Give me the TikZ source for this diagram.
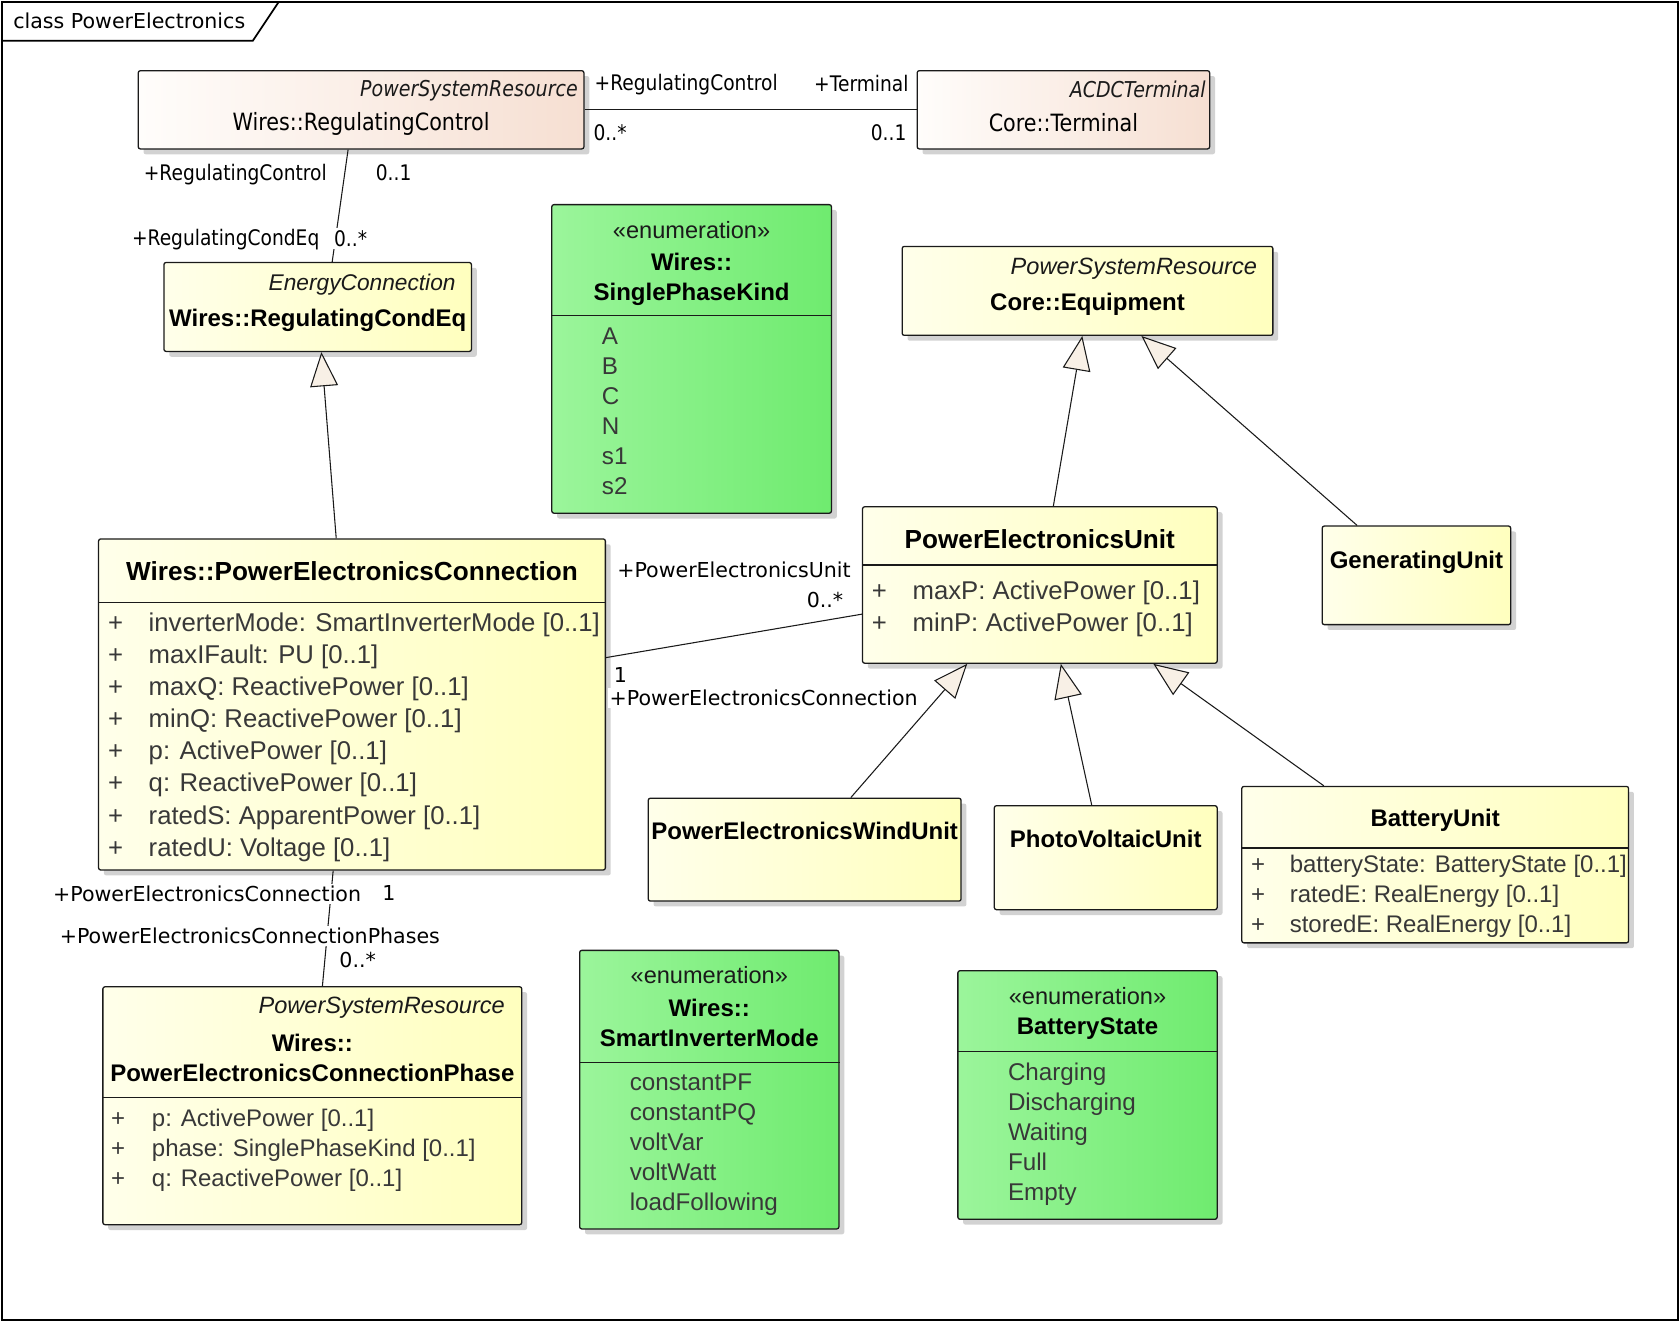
\documentclass[tikz,border=0pt]{standalone}
\usepackage{fontspec}
\setmainfont{Liberation Sans}
\newfontfamily\rolefont{DejaVu Sans}
\newfontfamily\condfont[FakeStretch=0.87]{DejaVu Sans}
\usetikzlibrary{arrows.meta,positioning,fit,calc,shadows}
\definecolor{Ink}{HTML}{1A1A1A}
\definecolor{AttrInk}{HTML}{383838}
\definecolor{ClsLeft}{HTML}{FFFFEA}
\definecolor{ClsRight}{HTML}{FFFFBE}
\definecolor{PsrLeft}{HTML}{FFFDFB}
\definecolor{PsrRight}{HTML}{F6DFD2}
\definecolor{EnumLeft}{HTML}{9BF59B}
\definecolor{EnumRight}{HTML}{6FEB6F}
\definecolor{HeadFill}{HTML}{F8F0E6}
\definecolor{ShadowC}{HTML}{D2D2D2}
\newcommand{\plusrow}[1]{\makebox[19pt][l]{+}#1}
\newcommand{\plusrowb}[1]{\makebox[18pt][l]{+}#1}

\begin{document}
\begin{tikzpicture}[
  x=0.5pt, y=-0.5pt,
  every node/.style={inner sep=0pt},
  box/.style={draw=Ink, line width=0.6pt, rounded corners=1pt, inner sep=0pt,
    drop shadow={shadow xshift=2.5pt, shadow yshift=-2.5pt, fill=ShadowC, opacity=1}},
  cls/.style={box, left color=ClsLeft, right color=ClsRight},
  psr/.style={box, left color=PsrLeft, right color=PsrRight},
  enumbox/.style={box, left color=EnumLeft, right color=EnumRight},
  divider/.style={draw=Ink, line width=0.6pt},
  clsname/.style={font=\fontsize{11.2}{14}\selectfont\bfseries, text=black, align=center},
  bigname/.style={font=\fontsize{12.2}{15}\selectfont\bfseries, text=black},
  stereo/.style={font=\fontsize{11}{13}\selectfont\itshape, text=Ink, anchor=east},
  enumst/.style={font=\fontsize{11}{13}\selectfont, text=Ink},
  topst/.style={font=\condfont\fontsize{10.2}{12}\selectfont\itshape, text=Ink, anchor=east},
  topname/.style={font=\condfont\fontsize{11.1}{13}\selectfont, text=black},
  attrs/.style={font=\fontsize{12}{15}\selectfont, text=AttrInk, align=left, anchor=north west},
  attrsb/.style={font=\fontsize{11.2}{14}\selectfont, text=AttrInk, align=left, anchor=north west},
  items/.style={font=\fontsize{11.3}{14}\selectfont, text=AttrInk, align=left, anchor=north west},
  role/.style={font=\rolefont\fontsize{9.6}{11}\selectfont, text=black, fill=white, inner sep=1pt},
  toprole/.style={font=\condfont\fontsize{10}{12}\selectfont, text=black, fill=white, inner sep=1pt},
  assoc/.style={draw=Ink, line width=0.5pt},
  gen/.style={draw=Ink, line width=0.5pt, -{Triangle[length=16pt, width=13pt, fill=HeadFill]}},
  frame/.style={draw=black, line width=0.8pt}
]
\useasboundingbox (0,0) rectangle (1568,1234);

% frame
\draw[frame] (2,2) rectangle (1566,1232);
\draw[frame] (2,38) -- (236,38) -- (260,2);
\node[font=\rolefont\fontsize{9.6}{11}\selectfont, anchor=west] (title) at (12,19) {class PowerElectronics};

% top row
\node[psr, fit={(129,66) (545,139)}] (regctl) {};
\node[topst] (regctl-st) at ($(regctl.north east)+(-6,19)$) {PowerSystemResource};
\node[topname] (regctl-nm) at ($(regctl.north)+(0,50)$) {Wires::RegulatingControl};

\node[psr, fit={(856,66) (1129,139)}] (term) {};
\node[topst] (term-st) at ($(term.north east)+(-4,18)$) {ACDCTerminal};
\node[topname] (term-nm) at ($(term.north)+(0,49)$) {Core::Terminal};

\node[cls, fit={(153,245) (440,328)}] (regeq) {};
\node[stereo, font=\fontsize{10.6}{13}\selectfont\itshape] (regeq-st) at ($(regeq.north east)+(-15,21)$) {EnergyConnection};
\node[clsname] (regeq-nm) at ($(regeq.north)+(0,55)$) {Wires::RegulatingCondEq};

\node[enumbox, fit={(515,191) (776,479)}] (spk) {};
\node[enumst] (spk-st) at ($(spk.north)+(0,24)$) {«enumeration»};
\node[clsname] (spk-nm) at ($(spk.north)+(0,70)$) {Wires::\\SinglePhaseKind};
\draw[divider] ($(spk.north west)+(0,104)$) -- ($(spk.north east)+(0,104)$);
\node[items] (spk-it) at ($(spk.north west)+(47,115)$) {A\\B\\C\\N\\s1\\s2};

\node[cls, fit={(842,230) (1188,313)}] (equip) {};
\node[stereo] (equip-st) at ($(equip.north east)+(-15,21)$) {PowerSystemResource};
\node[clsname] (equip-nm) at ($(equip.north)+(0,55)$) {Core::Equipment};

% middle row
\node[cls, fit={(805,473) (1136,619)}] (peu) {};
\node[bigname] (peu-nm) at ($(peu.north)+(0,31)$) {PowerElectronicsUnit};
\draw[divider] ($(peu.north west)+(0,55)$) -- ($(peu.north east)+(0,55)$);
\node[attrs] (peu-at) at ($(peu.north west)+(9,69)$) {\plusrow{maxP: ActivePower [0..1]}\\\plusrow{minP: ActivePower [0..1]}};

\node[cls, fit={(1234,491) (1410,583)}] (genu) {};
\node[clsname] (genu-nm) at ($(genu.north)+(0,34)$) {GeneratingUnit};

\node[cls, fit={(92,503) (565,812)}] (pec) {};
\node[bigname] (pec-nm) at ($(pec.north)+(0,31)$) {Wires::PowerElectronicsConnection};
\draw[divider] ($(pec.north west)+(0,60)$) -- ($(pec.north east)+(0,60)$);
\node[attrs] (pec-at) at ($(pec.north west)+(9,69)$) {\plusrow{inverterMode: SmartInverterMode [0..1]}\\
  \plusrow{maxIFault: PU [0..1]}\\\plusrow{maxQ: ReactivePower [0..1]}\\\plusrow{minQ: ReactivePower [0..1]}\\
  \plusrow{p: ActivePower [0..1]}\\\plusrow{q: ReactivePower [0..1]}\\\plusrow{ratedS: ApparentPower [0..1]}\\
  \plusrow{ratedU: Voltage [0..1]}};

\node[cls, fit={(605,745) (897,841)}] (wind) {};
\node[clsname] (wind-nm) at ($(wind.north)+(0,31)$) {PowerElectronicsWindUnit};

\node[cls, fit={(928,752) (1136,849)}] (pv) {};
\node[clsname] (pv-nm) at ($(pv.north)+(0,32)$) {PhotoVoltaicUnit};

\node[cls, fit={(1159,734) (1520,880)}] (batt) {};
\node[clsname] (batt-nm) at ($(batt.north)+(0,32)$) {BatteryUnit};
\draw[divider] ($(batt.north west)+(0,58)$) -- ($(batt.north east)+(0,58)$);
\node[attrsb] (batt-at) at ($(batt.north west)+(9,64)$) {\plusrowb{batteryState: BatteryState [0..1]}\\
  \plusrowb{ratedE: RealEnergy [0..1]}\\\plusrowb{storedE: RealEnergy [0..1]}};

% bottom row
\node[cls, fit={(96,921) (487,1143)}] (phase) {};
\node[stereo] (phase-st) at ($(phase.north east)+(-16,20)$) {PowerSystemResource};
\node[clsname] (phase-nm) at ($(phase.north)+(0,67)$) {Wires::\\PowerElectronicsConnectionPhase};
\draw[divider] ($(phase.north west)+(0,104)$) -- ($(phase.north east)+(0,104)$);
\node[attrsb] (phase-at) at ($(phase.north west)+(8,114)$) {\plusrow{p: ActivePower [0..1]}\\
  \plusrow{phase: SinglePhaseKind [0..1]}\\\plusrow{q: ReactivePower [0..1]}};

\node[enumbox, fit={(541,887) (783,1147)}] (sim) {};
\node[enumst] (sim-st) at ($(sim.north)+(0,24)$) {«enumeration»};
\node[clsname] (sim-nm) at ($(sim.north)+(0,68)$) {Wires::\\SmartInverterMode};
\draw[divider] ($(sim.north west)+(0,105)$) -- ($(sim.north east)+(0,105)$);
\node[items] (sim-it) at ($(sim.north west)+(47,115)$) {constantPF\\constantPQ\\voltVar\\voltWatt\\loadFollowing};

\node[enumbox, fit={(894,906) (1136,1138)}] (bst) {};
\node[enumst] (bst-st) at ($(bst.north)+(0,24)$) {«enumeration»};
\node[clsname] (bst-nm) at ($(bst.north)+(0,55)$) {BatteryState};
\draw[divider] ($(bst.north west)+(0,76)$) -- ($(bst.north east)+(0,76)$);
\node[items] (bst-it) at ($(bst.north west)+(47,86)$) {Charging\\Discharging\\Waiting\\Full\\Empty};

% associations
\draw[assoc] (regctl.east) -- (term.west);
\draw[assoc] ($(regctl.south west)!0.471!(regctl.south east)$) -- ($(regeq.north west)!0.547!(regeq.north east)$);
\draw[assoc] ($(pec.north east)!0.359!(pec.south east)$) -- ($(peu.north west)!0.685!(peu.south west)$);
\draw[assoc] ($(pec.south west)!0.463!(pec.south east)$) -- ($(phase.north west)!0.524!(phase.north east)$);

% generalizations
\draw[gen] ($(pec.north west)!0.469!(pec.north east)$) -- ($(regeq.south west)!0.512!(regeq.south east)$);
\draw[gen] ($(peu.north west)!0.538!(peu.north east)$) -- ($(equip.south west)!0.486!(equip.south east)$);
\draw[gen] ($(genu.north west)!0.1875!(genu.north east)$) -- ($(equip.south west)!0.645!(equip.south east)$);
\draw[gen] ($(wind.north west)!0.647!(wind.north east)$) -- ($(peu.south west)!0.296!(peu.south east)$);
\draw[gen] ($(pv.north west)!0.4375!(pv.north east)$) -- ($(peu.south west)!0.559!(peu.south east)$);
\draw[gen] ($(batt.north west)!0.213!(batt.north east)$) -- ($(peu.south west)!0.819!(peu.south east)$);

% role names and multiplicities
\node[toprole, anchor=west] (r-rc1) at ($(regctl.north east)+(7,14)$) {+RegulatingControl};
\node[toprole, anchor=west] (m-rc1) at ($(regctl.north east)+(6,58)$) {0..*};
\node[toprole, anchor=east] (r-term) at ($(term.north west)+(-5,13)$) {+Terminal};
\node[toprole, anchor=east] (m-term) at ($(term.north west)+(-7,58)$) {0..1};
\node[toprole, anchor=east] (r-rc2) at ($(regctl.south west)+(179,23)$) {+RegulatingControl};
\node[toprole, anchor=west] (m-rc2) at ($(regctl.south west)+(220,22)$) {0..1};
\node[toprole, anchor=east] (r-rce) at ($(regeq.north west)+(148,-21)$) {+RegulatingCondEq};
\node[toprole, anchor=west] (m-rce) at ($(regeq.north west)+(157,-22)$) {0..*};

\node[role, anchor=east] (r-peu) at ($(peu.north west)+(-8,59)$) {+PowerElectronicsUnit};
\node[role, anchor=east] (m-peu) at ($(peu.north west)+(-15,88)$) {0..*};
\node[role, anchor=west] (m-pec1) at ($(pec.north east)+(5,128)$) {1};
\node[role, anchor=west] (r-pec1) at ($(pec.north east)+(1,149)$) {+PowerElectronicsConnection};
\node[role, anchor=east] (r-pec2) at ($(pec.south west)+(248,22)$) {+PowerElectronicsConnection};
\node[role, anchor=west] (m-pec2) at ($(pec.south west)+(263,21)$) {1};
\node[role, anchor=west] (r-ph) at ($(phase.north west)+(-42,-47)$) {+PowerElectronicsConnectionPhases};
\node[role, anchor=west] (m-ph) at ($(phase.north west)+(219,-24)$) {0..*};
\end{tikzpicture}
\end{document}
